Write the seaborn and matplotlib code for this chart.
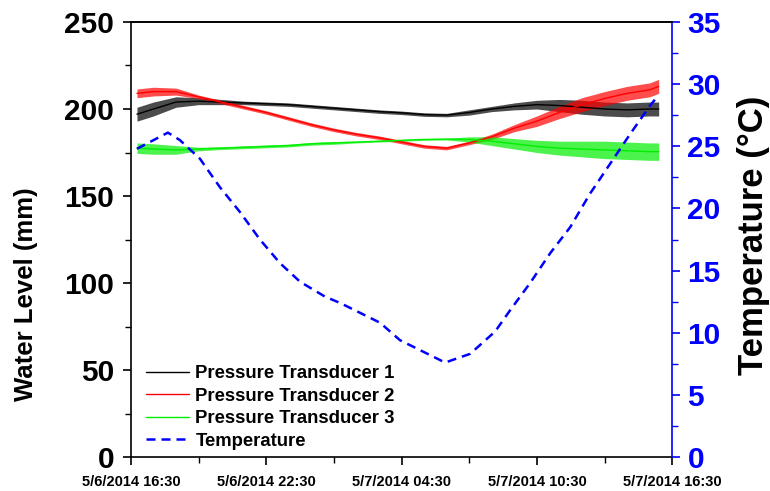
import matplotlib
matplotlib.use("Agg")
import matplotlib.pyplot as plt
from matplotlib.lines import Line2D
from matplotlib.ticker import MultipleLocator
import numpy as np
import pandas as pd
import seaborn as sns

# ---------------- data (hours after 5/6/2014 16:30) ----------------
hours = [0.27, 1, 2, 3, 4, 5, 6, 7, 8, 9, 10, 11, 12, 13, 14, 15, 16, 17,
         18, 19, 20, 21, 22, 23, 23.4]
pt1 = [197, 200, 204, 204.5, 204, 203.5, 203, 202.5, 201.5, 200.5, 199.5,
       198.5, 197.8, 196.8, 196.5, 198, 200, 201.5, 202.5, 202, 201, 200,
       199.5, 200, 200]
pt2 = [209, 210, 210, 207, 204, 201, 198, 194.5, 191, 188, 185.5, 183.5,
       181, 178.5, 177.5, 180.5, 184, 189, 193, 198, 202.5, 206, 209, 211, 213]
pt3 = [177.5, 177, 176.5, 177, 177.5, 178, 178.5, 179, 180, 180.5, 181,
       181.5, 182, 182.5, 182.7, 182.5, 181.5, 180, 178.5, 177.5, 177,
       176.5, 176, 175.5, 175.5]
# half-width of the sensor noise band (mm)
pt1_noise = [4, 4, 3, 2, 1.5, 1, 1, 1, 1, 1, 1, 1, 1, 1, 1, 1.5, 1.5, 2, 2.5,
             3.5, 4, 4, 4, 4, 4]
pt2_noise = [2.5, 2.5, 2, 1, 1, 1, 1, 1, 1, 1, 1, 1, 1, 1, 1, 1, 1.5, 2, 3,
             3.5, 4, 4, 4, 4, 4]
pt3_noise = [3, 3, 2.5, 1, 0.8, 0.8, 0.8, 0.8, 0.8, 0.8, 0.5, 0.5, 0.5, 0.5,
             0.5, 1.5, 2.5, 3, 3.5, 4, 4.5, 5, 5, 5, 5]

temp_hours = [0.27, 1.64, 2.17, 3.06, 3.95, 4.84, 5.72, 6.61, 7.50, 8.61,
              9.27, 11.05, 11.93, 12.82, 13.93, 15.04, 16.15, 16.81, 17.70,
              18.59, 19.48, 20.36, 21.25, 22.14, 23.03, 23.34]
temp = [24.8, 26.1, 25.5, 24.0, 21.7, 19.7, 17.5, 15.6, 14.1, 12.9, 12.4,
        10.8, 9.4, 8.6, 7.6, 8.3, 10.1, 11.8, 14.0, 16.4, 18.5, 21.2, 23.6,
        26.0, 28.3, 29.0]

series_names = ["Pressure Transducer 1", "Pressure Transducer 2",
                "Pressure Transducer 3"]
temp_name = "Temperature"
x_tick_hours = [0, 6, 12, 18, 24]
x_tick_labels = ["5/6/2014 16:30", "5/6/2014 22:30", "5/7/2014 04:30",
                 "5/7/2014 10:30", "5/7/2014 16:30"]

# ---------------- style ----------------
sns.set_style("ticks")
plt.rcParams["font.family"] = ["Liberation Sans", "DejaVu Sans"]
plt.rcParams["font.weight"] = "bold"
plt.rcParams["axes.labelweight"] = "bold"
for k in ["text.color", "axes.labelcolor", "xtick.color", "ytick.color",
          "axes.edgecolor"]:
    plt.rcParams[k] = "black"

colors = ["black", "red", "#00ee00"]
blue = "#0000ff"

df = pd.DataFrame({
    "hours": hours * 3,
    "level": pt1 + pt2 + pt3,
    "series": sum([[n] * len(hours) for n in series_names], []),
})

fig = plt.figure(figsize=(7.7, 4.91), dpi=100)
ax = fig.add_axes([0.170, 0.0692, 0.703, 0.886])

for vals, noise, c in zip([pt1, pt2, pt3], [pt1_noise, pt2_noise, pt3_noise],
                          colors):
    v = np.array(vals)
    n = np.array(noise)
    ax.fill_between(hours, v - n, v + n, color=c, alpha=0.7, lw=0)

sns.lineplot(data=df, x="hours", y="level", hue="series",
             palette=dict(zip(series_names, colors)), linewidth=1.0,
             ax=ax, legend=False)

ax2 = ax.twinx()
sns.lineplot(x=temp_hours, y=temp, color=blue, linewidth=1.8,
             dashes=False, ax=ax2, legend=False)
ax2.lines[0].set_dashes((3.6, 2.4))

ax.set_xlim(0, 24)
ax.set_ylim(0, 250)
ax2.set_ylim(0, 35)
ax.set_xticks(x_tick_hours)
ax.set_xticklabels(x_tick_labels)
ax.xaxis.set_minor_locator(MultipleLocator(3))
ax.yaxis.set_major_locator(MultipleLocator(50))
ax.yaxis.set_minor_locator(MultipleLocator(25))
ax2.yaxis.set_major_locator(MultipleLocator(5))
ax2.yaxis.set_minor_locator(MultipleLocator(2.5))

ax.set_xlabel("")
ax.set_ylabel("Water Level (mm)", fontsize=18.5, fontweight="bold")
ax.yaxis.set_label_coords(-0.172, 0.375)
ax2.set_ylabel("Temperature (\u00b0C)", fontsize=25, fontweight="bold",
               color="black", rotation=90)
ax2.yaxis.set_label_coords(1.12, 0.51)

ax.tick_params(axis="y", labelsize=21.5, direction="out", length=6,
               width=1.2, pad=6)
ax.tick_params(axis="y", which="minor", direction="out", length=4, width=1.0)
ax.tick_params(axis="x", labelsize=10.5, direction="out", length=6,
               width=1.2, pad=7)
ax.tick_params(axis="x", which="minor", direction="out", length=4, width=1.0)
ax2.tick_params(axis="y", labelsize=21.5, direction="out", length=6,
                width=1.2, colors=blue, pad=5)
ax2.tick_params(axis="y", which="minor", direction="out", length=4,
                width=1.0, colors=blue)
for lab in ax.get_xticklabels() + ax.get_yticklabels() + ax2.get_yticklabels():
    lab.set_fontweight("bold")

for s in ["left", "bottom", "top"]:
    ax.spines[s].set_color("black")
    ax.spines[s].set_linewidth(1.2)
    ax2.spines[s].set_visible(False)
ax.spines["right"].set_visible(False)
ax2.spines["right"].set_color(blue)
ax2.spines["right"].set_linewidth(1.2)
ax2.spines["top"].set_visible(True)
ax2.spines["top"].set_color("black")
ax2.spines["top"].set_linewidth(1.2)

handles = [Line2D([0], [0], color=c, lw=1.0) for c in colors]
handles.append(Line2D([0], [0], color=blue, lw=1.8, dashes=(3.6, 2.4)))
ax.legend(handles, series_names + [temp_name], loc="lower left",
          frameon=False, handlelength=2.3, handletextpad=0.35,
          labelspacing=0.3, borderaxespad=0.0,
          bbox_to_anchor=(0.015, 0.0),
          prop={"weight": "bold", "size": 13.3})

fig.savefig("out.png", dpi=100)
